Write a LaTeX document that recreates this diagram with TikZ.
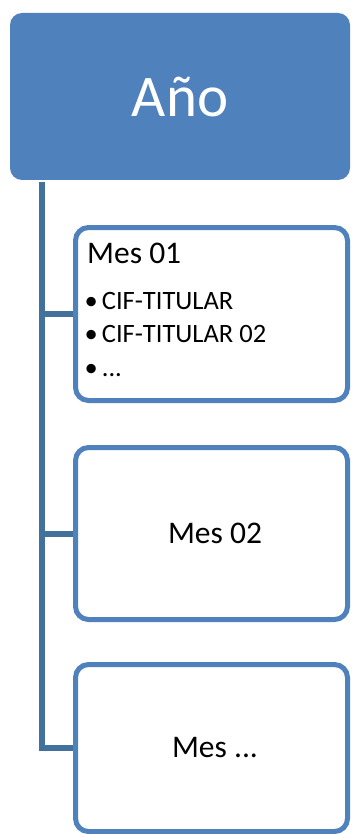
\documentclass[tikz,border=0pt]{standalone}
\usepackage{fontspec}
\setmainfont{Carlito}
\definecolor{boxblue}{HTML}{4F81BD}
\definecolor{trunkblue}{HTML}{41719C}
\begin{document}
\begin{tikzpicture}[x=1pt,y=-1pt,
  topbox/.style={fill=boxblue,draw=none,rounded corners=12pt,minimum width=340pt,minimum height=167pt,inner sep=0pt},
  monthbox/.style={draw=boxblue,line width=5pt,fill=white,rounded corners=13pt,minimum width=272pt,inner sep=0pt},
  trunk/.style={draw=trunkblue,line width=6pt},
  monthtext/.style={inner sep=0pt,font=\fontsize{31.5}{36}\selectfont},
  itemtext/.style={inner sep=0pt,anchor=base west,font=\fontsize{26.5}{30}\selectfont}
]
\useasboundingbox (0,0) rectangle (351,834);
\node[topbox,text=white,font=\fontsize{59}{70}\selectfont] (ano) at (180,96.5) {Año};
\node[monthbox,minimum height=173pt] (m1) at (211.5,314) {};
\node[monthbox,minimum height=172pt] (m2) at (211.5,533.5) {};
\node[monthbox,minimum height=167pt] (m3) at (211.5,748) {};
\coordinate (ttop) at (41.5,182);
\draw[trunk] (ttop) -- (ttop |- m3.west) -- (m3.west);
\draw[trunk] (ttop |- m1.west) -- (m1.west);
\draw[trunk] (ttop |- m2.west) -- (m2.west);
\node[monthtext,anchor=base west] (t1) at (87,263) {Mes 01};
\node[itemtext] (i1) at (101.7,309) {\llap{•\hspace{4pt}}CIF-TITULAR};
\node[itemtext] (i2) at (101.7,342) {\llap{•\hspace{4pt}}CIF-TITULAR 02};
\node[itemtext] (i3) at (101.7,376) {\llap{•\hspace{4pt}}...};
\node[monthtext] (t2) at (215,533.5) {Mes 02};
\node[monthtext] (t3) at (215,748) {Mes ...};
\end{tikzpicture}
\end{document}
